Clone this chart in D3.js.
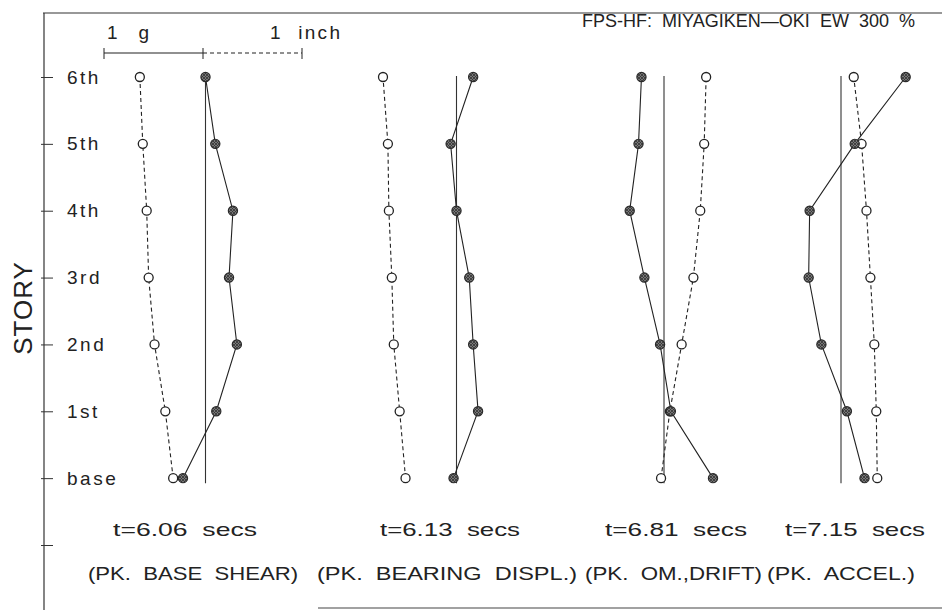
<!DOCTYPE html>
<html>
<head>
<meta charset="utf-8">
<script src="https://cdn.jsdelivr.net/npm/d3@7"></script>
<style>
  body { margin: 0; background: #fff; }
  svg text { font-family: "Liberation Sans", Arial, sans-serif; fill: #222; }
</style>
</head>
<body>
<svg id="chart"></svg>
<script>
// Story levels, bottom to top
const stories = ["base", "1st", "2nd", "3rd", "4th", "5th", "6th"];

// Per-snapshot labels
const snapTimes = ["t=6.06  secs", "t=6.13  secs", "t=6.81  secs", "t=7.15  secs"];
const snapPeaks = ["(PK.  BASE  SHEAR)", "(PK.  BEARING  DISPL.)", "(PK.  OM.,DRIFT)", "(PK.  ACCEL.)"];

// Acceleration profiles (g), base -> 6th, filled markers / solid line
const accel1 = [-0.23, 0.11, 0.32, 0.24, 0.28, 0.10, 0.00];
const accel2 = [-0.03, 0.22, 0.17, 0.13, 0.00, -0.06, 0.17];
const accel3 = [0.50, 0.07, -0.04, -0.20, -0.35, -0.26, -0.23];
const accel4 = [0.24, 0.06, -0.20, -0.33, -0.32, 0.14, 0.66];

// Displacement profiles (inch), base -> 6th, open markers / dashed line
const displ1 = [-0.33, -0.41, -0.52, -0.58, -0.60, -0.64, -0.67];
const displ2 = [-0.52, -0.58, -0.64, -0.66, -0.69, -0.70, -0.75];
const displ3 = [-0.03, 0.06, 0.18, 0.30, 0.37, 0.41, 0.43];
const displ4 = [0.37, 0.36, 0.34, 0.30, 0.26, 0.21, 0.13];

const accelSets = [accel1, accel2, accel3, accel4];
const displSets = [displ1, displ2, displ3, displ4];

const title = "FPS-HF:  MIYAGIKEN\u2014OKI  EW  300  %";

// Layout
const W = 942, H = 610;
const axisX = 44;
const unitPx = 98;                       // 1 g == 1 inch on paper
const panelOrigin = [205.5, 456.5, 664, 841];
const timeX = [113, 380, 605, 785], timeW = [144, 140, 142, 140];
const peakX = [88, 317, 585, 767], peakW = [210, 260, 177, 148];

const svg = d3.select("#chart").attr("width", W).attr("height", H);

// hatched fill for the solid markers
const pat = svg.append("defs").append("pattern")
  .attr("id", "hatch").attr("patternUnits", "userSpaceOnUse")
  .attr("width", 3).attr("height", 3);
pat.append("rect").attr("width", 3).attr("height", 3).attr("fill", "#777");
pat.append("path").attr("d", "M0,3 L3,0 M0,0 L3,3").attr("stroke", "#333").attr("stroke-width", 0.8);

const y = d3.scaleLinear().domain([-1, 6]).range([545, 77]);

// frame
svg.append("line").attr("x1", axisX - 1).attr("x2", W).attr("y1", 13).attr("y2", 13)
  .attr("stroke", "#333").attr("stroke-width", 1.2);
svg.append("line").attr("x1", axisX).attr("x2", axisX).attr("y1", 13).attr("y2", H)
  .attr("stroke", "#333").attr("stroke-width", 1.2);
svg.append("line").attr("x1", 318).attr("x2", W).attr("y1", 608).attr("y2", 608)
  .attr("stroke", "#444").attr("stroke-width", 1.2);

// story axis
const yAxis = svg.append("g")
  .attr("transform", "translate(" + axisX + ",0)")
  .call(d3.axisRight(y)
    .tickValues(d3.range(-1, 7))
    .tickSize(9)
    .tickPadding(14)
    .tickFormat(i => i < 0 ? "" : stories[i]));
yAxis.select(".domain").remove();
yAxis.selectAll(".tick line").attr("x1", -3).attr("stroke", "#333");
yAxis.selectAll(".tick text")
  .style("font-size", "19px")
  .style("letter-spacing", "2.5px")
  .attr("fill", "#222");

svg.append("text")
  .attr("transform", "translate(32,308) rotate(-90)")
  .attr("text-anchor", "middle")
  .style("font-size", "26px")
  .style("letter-spacing", "1px")
  .text("STORY");

// title
svg.append("text")
  .attr("x", 582).attr("y", 27)
  .attr("xml:space", "preserve")
  .attr("textLength", 333).attr("lengthAdjust", "spacingAndGlyphs")
  .style("font-size", "19px")
  .text(title);

// scale bar: 1 g (solid) | 1 inch (dashed)
const sb = d3.scaleLinear().domain([0, 1]).range([203, 203 + unitPx + 1]);
svg.append("line").attr("x1", sb(-1)).attr("x2", sb(0)).attr("y1", 53).attr("y2", 53)
  .attr("stroke", "#222").attr("stroke-width", 1.2);
svg.append("line").attr("x1", sb(0)).attr("x2", sb(1)).attr("y1", 53).attr("y2", 53)
  .attr("stroke", "#222").attr("stroke-width", 1.1).attr("stroke-dasharray", "4,3");
svg.selectAll(".sbtick").data([-1, 0, 1]).enter().append("line")
  .attr("x1", d => sb(d)).attr("x2", d => sb(d)).attr("y1", 48).attr("y2", 59)
  .attr("stroke", "#222");
svg.append("text").attr("x", sb(-1) + 3).attr("y", 39).style("font-size", "19px")
  .attr("xml:space", "preserve")
  .attr("textLength", 42).attr("lengthAdjust", "spacing")
  .text("1   g");
svg.append("text").attr("x", sb(1) - 32).attr("y", 39).style("font-size", "19px")
  .attr("xml:space", "preserve")
  .attr("textLength", 70).attr("lengthAdjust", "spacing")
  .text("1  inch");

// panels
panelOrigin.forEach(function(ox, p) {
  const x = d3.scaleLinear().domain([0, 1]).range([ox, ox + unitPx]);
  const g = svg.append("g");

  g.append("line")
    .attr("x1", x(0)).attr("x2", x(0))
    .attr("y1", y(6) - 1).attr("y2", y(0) + 5)
    .attr("stroke", "#333").attr("stroke-width", 1.1);

  const line = d3.line().x(d => x(d)).y((d, i) => y(i));

  g.append("path").datum(displSets[p])
    .attr("d", line).attr("fill", "none")
    .attr("stroke", "#222").attr("stroke-width", 1.1).attr("stroke-dasharray", "4,3");

  g.append("path").datum(accelSets[p])
    .attr("d", line).attr("fill", "none")
    .attr("stroke", "#222").attr("stroke-width", 1.1);

  g.selectAll(".open").data(displSets[p]).enter().append("circle")
    .attr("cx", d => x(d)).attr("cy", (d, i) => y(i)).attr("r", 4.5)
    .attr("fill", "#fff").attr("stroke", "#222").attr("stroke-width", 1.3);

  g.selectAll(".filled").data(accelSets[p]).enter().append("circle")
    .attr("cx", d => x(d)).attr("cy", (d, i) => y(i)).attr("r", 4.6)
    .attr("fill", "url(#hatch)").attr("stroke", "#2a2a2a").attr("stroke-width", 1.2);

  svg.append("text")
    .attr("x", timeX[p]).attr("y", 536)
    .attr("xml:space", "preserve")
    .attr("textLength", timeW[p]).attr("lengthAdjust", "spacingAndGlyphs")
    .style("font-size", "19px")
    .text(snapTimes[p]);

  svg.append("text")
    .attr("x", peakX[p]).attr("y", 580)
    .attr("xml:space", "preserve")
    .attr("textLength", peakW[p]).attr("lengthAdjust", "spacingAndGlyphs")
    .style("font-size", "19px")
    .text(snapPeaks[p]);
});
</script>
</body>
</html>
